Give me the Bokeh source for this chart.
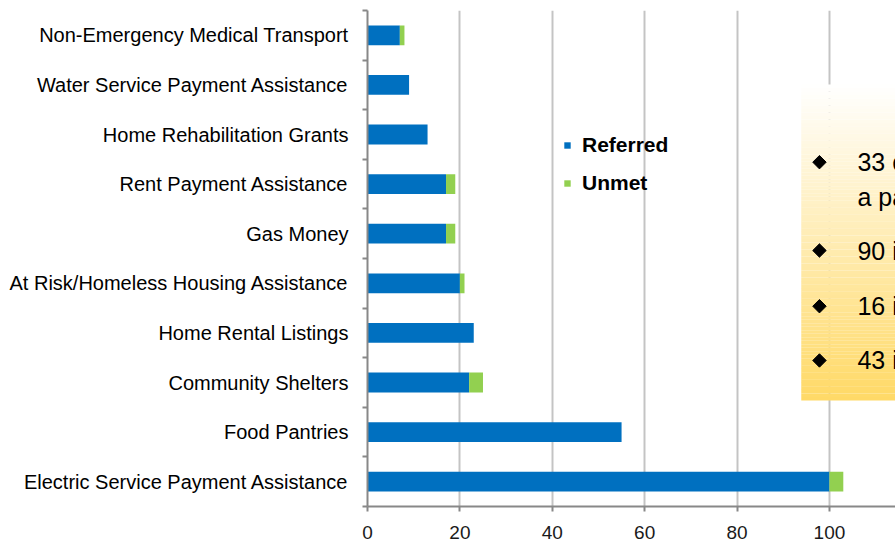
import math
from bokeh.plotting import figure
from bokeh.models import FixedTicker, Legend, LegendItem, Range1d, ColumnDataSource
from bokeh.embed import file_html
from bokeh.resources import INLINE
from bokeh.core.properties import value

# ---- data (bottom to top, as the axis reads upward) ----
categories = [
    "Electric Service Payment Assistance",
    "Food Pantries",
    "Community Shelters",
    "Home Rental Listings",
    "At Risk/Homeless Housing Assistance",
    "Gas Money",
    "Rent Payment Assistance",
    "Home Rehabilitation Grants",
    "Water Service Payment Assistance",
    "Non-Emergency Medical Transport",
]
referred = [100, 55, 22, 23, 20, 17, 17, 13, 9, 7]
unmet = [3, 0, 3, 0, 1, 2, 2, 0, 0, 1]
series = ["Referred", "Unmet"]
series_colors = ["#0070C0", "#92D050"]
x_ticks = [0, 20, 40, 60, 80, 100, 120]
note_lines = [
    "33 clients were referred to",
    "a partner agency",
    "90 inquiries were resolved",
    "16 inquiries were unmet",
    "43 inquiries were referred",
]
note_bullets = [True, False, True, True, True]

FONT = "Liberation Sans"

pos = list(range(len(categories)))
src = ColumnDataSource(dict(pos=pos, Referred=referred, Unmet=unmet))

p = figure(width=895, height=546,
           x_range=Range1d(0, 114.3), y_range=Range1d(-0.5, 9.5),
           output_backend="svg", toolbar_location=None,
           min_border_left=367, min_border_right=0,
           min_border_top=10, min_border_bottom=40)
p.outline_line_color = None
p.background_fill_color = "white"
p.border_fill_color = "white"

renderers = p.hbar_stack(series, y="pos", height=0.4, color=series_colors,
                         line_color=None, source=src)

# ---- axes ----
xa = p.xaxis[0]
xa.ticker = FixedTicker(ticks=x_ticks)
xa.major_tick_out = 5
xa.major_tick_in = 0
xa.minor_tick_out = 0
xa.axis_line_color = "#888888"
xa.axis_line_width = 2
xa.major_tick_line_color = "#888888"
xa.major_tick_line_width = 2
xa.major_label_text_font = FONT
xa.major_label_text_font_size = "19px"
xa.major_label_text_color = "#1a1a1a"
xa.major_label_standoff = 14

ya = p.yaxis[0]
ya.ticker = FixedTicker(ticks=pos, minor_ticks=[i - 0.5 for i in range(len(categories) + 1)])
ya.major_label_overrides = {i: c for i, c in zip(pos, categories)}
ya.major_tick_line_color = None
ya.major_tick_out = 0
ya.major_tick_in = 0
ya.minor_tick_out = 5
ya.minor_tick_in = 0
ya.minor_tick_line_color = "#888888"
ya.minor_tick_line_width = 2
ya.axis_line_color = "#888888"
ya.axis_line_width = 2
ya.major_label_text_font = FONT
ya.major_label_text_font_size = "20px"
ya.major_label_text_color = "#000000"
ya.major_label_standoff = 14

p.xgrid.ticker = FixedTicker(ticks=x_ticks)
p.xgrid.grid_line_color = "#C4C4C4"
p.xgrid.grid_line_width = 2
p.ygrid.grid_line_color = None

# ---- gradient text box (annotation) ----
box_left, box_right, box_bottom, box_top = 93.9, 125.0, 1.637, 8.008
n = 90
tops, bottoms, cols = [], [], []
top_rgb = (255, 255, 255)
bot_rgb = (255, 217, 102)
for i in range(n):
    b = box_bottom + (box_top - box_bottom) * i / n
    t = box_bottom + (box_top - box_bottom) * (i + 1) / n
    f = (i + 0.5) / n  # 0 at bottom, 1 at top
    rgb = tuple(int(round(bot_rgb[k] + (top_rgb[k] - bot_rgb[k]) * f)) for k in range(3))
    bottoms.append(b)
    tops.append(t + 0.002)
    cols.append("#%02x%02x%02x" % rgb)
p.quad(left=box_left, right=box_right, bottom=bottoms, top=tops,
       fill_color=cols, line_color=None)

note_y = [6.442, 5.736, 4.661, 3.538, 2.444]
bul_y = [y for y, b in zip(note_y, note_bullets) if b]
p.scatter(x=[97.84] * len(bul_y), y=bul_y, marker="square", size=9.5,
          angle=math.pi / 4, color="black")
p.text(x=[106.06] * len(note_lines), y=note_y, text=note_lines,
       text_font=value(FONT), text_font_size="25px",
       text_baseline="middle", text_align="left", text_color="black")

# ---- legend ----
legend = Legend(items=[LegendItem(label=s, renderers=[r]) for s, r in zip(series, renderers)],
                location=(196, 311), orientation="vertical",
                glyph_width=8, glyph_height=8, label_height=24,
                label_text_font=FONT, label_text_font_size="21px",
                label_text_font_style="bold", label_text_color="black",
                label_standoff=11, spacing=14, padding=0, margin=0,
                border_line_color=None, background_fill_alpha=0)
p.add_layout(legend)

open("out.html", "w").write(file_html(p, INLINE))
